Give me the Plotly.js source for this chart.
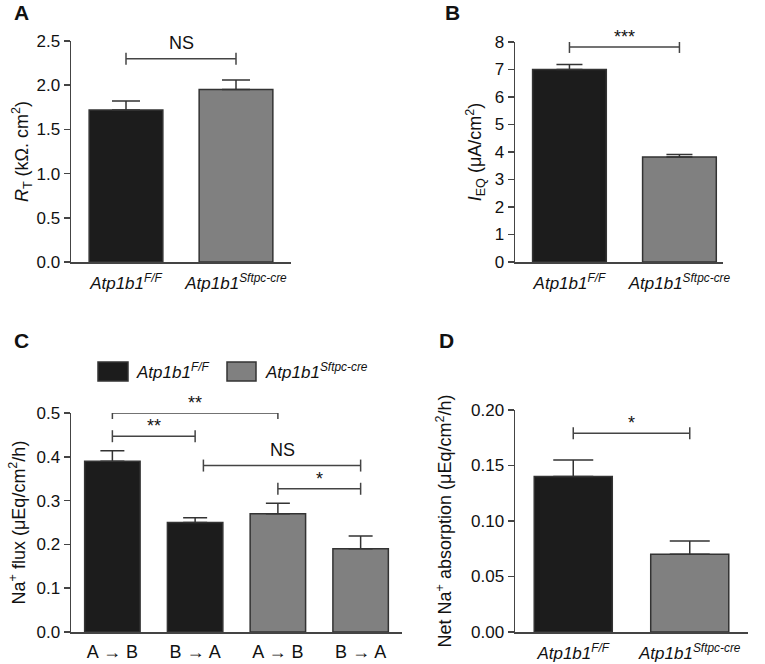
<!DOCTYPE html>
<html>
<head>
<meta charset="utf-8">
<script src="https://cdn.plot.ly/plotly-3.0.1.min.js"></script>
<style>body{margin:0}#chart{width:765px;height:664px}</style>
</head>
<body>
<div id="chart"></div>
<script>
// genotype labels
var groupLabels = ['<i>Atp1b1</i><sup><i>F/F</i></sup>', '<i>Atp1b1</i><sup><i>Sftpc-cre</i></sup>'];

// A: transepithelial resistance
var rtMean = [1.72, 1.95];
var rtErr = [0.10, 0.11];
// B: equivalent current
var ieqMean = [7.0, 3.82];
var ieqErr = [0.18, 0.09];
// C: Na+ flux
var fluxLabels = ['A \u2192 B', 'B \u2192 A', 'A \u2192 B', 'B \u2192 A'];
var fluxMean = [0.39, 0.25, 0.27, 0.19];
var fluxErr = [0.024, 0.011, 0.024, 0.029];
var fluxGroup = [0, 0, 1, 1];
// D: net absorption
var netMean = [0.14, 0.07];
var netErr = [0.015, 0.012];

// significance brackets: [from, to, y, label]
var sigA = [[0, 1, 2.3, 'NS']];
var sigB = [[0, 1, 7.82, '***']];
var sigC = [[0, 2, 0.5, '**'], [0, 1, 0.447, '**'], [1.1, 3, 0.38, 'NS'], [2, 3, 0.327, '*']];
var sigD = [[0, 1, 0.179, '*']];

var colors = ['#1c1c1c', '#808080'];
var font = 'Liberation Sans, Arial, sans-serif';
var axColor = '#444';

function barTrace(y, err, groups, xa, ya, capw) {
    var x = y.map((v, i) => i);
    return {
        type: 'bar', x: x, y: y, xaxis: xa, yaxis: ya,
        width: 0.67,
        marker: {color: groups.map(g => colors[g]), line: {color: '#333', width: 1.5}},
        error_y: {type: 'data', symmetric: false, array: err, arrayminus: err.map(e => 0),
                  color: '#333', thickness: 1.5, width: capw},
        showlegend: false, hoverinfo: 'y'
    };
}

var traces = [
    barTrace(rtMean, rtErr, [0, 1], 'x', 'y', 14),
    barTrace(ieqMean, ieqErr, [0, 1], 'x2', 'y2', 13),
    barTrace(fluxMean, fluxErr, fluxGroup, 'x3', 'y3', 12),
    barTrace(netMean, netErr, [0, 1], 'x4', 'y4', 20)
];

var shapes = [];
var annotations = [];
function addSig(list, xr, yr) {
    list.forEach(s => {
        var line = {color: axColor, width: 1.5};
        shapes.push({type: 'line', xref: xr, yref: yr, x0: s[0], x1: s[1], y0: s[2], y1: s[2], line: line});
        [s[0], s[1]].forEach(xx => {
            shapes.push({type: 'line', xref: xr, yref: yr, x0: xx, x1: xx, ysizemode: 'pixel', yanchor: s[2],
                         y0: -6, y1: 6, line: line});
        });
        var isStar = s[3].indexOf('*') >= 0;
        annotations.push({xref: xr, yref: yr, x: (s[0] + s[1]) / 2, y: s[2], text: s[3],
                          showarrow: false, yanchor: 'bottom', yshift: isStar ? -2 : 4,
                          font: {family: font, size: 18, color: '#111'}});
    });
}
addSig(sigA, 'x', 'y');
addSig(sigB, 'x2', 'y2');
addSig(sigC, 'x3', 'y3');
addSig(sigD, 'x4', 'y4');

// panel letters
[['A', 12, 12], ['B', 443, 12], ['C', 12, 340], ['D', 437, 340]].forEach(p => {
    annotations.push({xref: 'paper', yref: 'paper', x: p[1] / 765, y: 1 - p[2] / 664, xanchor: 'left',
                      yanchor: 'middle', text: '<b>' + p[0] + '</b>', showarrow: false,
                      font: {family: font, size: 21, color: '#111'}});
});

// legend for panel C
[[98, 128, 0, 134], [227, 256, 1, 263]].forEach(l => {
    shapes.push({type: 'rect', xref: 'paper', yref: 'paper', x0: l[0] / 765, x1: l[1] / 765,
                 y0: 1 - 381 / 664, y1: 1 - 362 / 664, fillcolor: colors[l[2]], line: {color: '#333', width: 1.5}});
    annotations.push({xref: 'paper', yref: 'paper', x: l[3] / 765, y: 1 - 371 / 664, xanchor: 'left',
                      yanchor: 'middle', text: groupLabels[l[2]], showarrow: false,
                      font: {family: font, size: 17, color: '#111'}});
});

function yax(anchor, domain, range, dtick, fmt, title, standoff) {
    return {
        anchor: anchor, domain: domain, range: range, dtick: dtick, tickformat: fmt,
        showgrid: false, zeroline: false, showline: true, linecolor: axColor, linewidth: 1.5,
        ticks: 'outside', ticklen: 6, tickwidth: 1.5, tickcolor: axColor,
        tickfont: {family: font, size: 17, color: '#111'},
        title: {text: title, font: {family: font, size: 18, color: '#111'}, standoff: standoff},
        fixedrange: true
    };
}
function xax(anchor, domain, range, labels, size, gap) {
    return {
        anchor: anchor, domain: domain, range: range, tickvals: labels.map((v, i) => i), ticktext: labels,
        showgrid: false, zeroline: false, showline: true, linecolor: axColor, linewidth: 1.5,
        ticks: '', ticklabelstandoff: gap, tickfont: {family: font, size: size, color: '#111'}, fixedrange: true
    };
}

var layout = {
    width: 765, height: 664,
    margin: {l: 0, r: 0, t: 0, b: 0},
    paper_bgcolor: '#fff', plot_bgcolor: '#fff',
    showlegend: false,
    xaxis: xax('y', [71 / 765, 291 / 765], [-0.5, 1.5], groupLabels, 17, 5),
    yaxis: yax('x', [1 - 262 / 664, 1 - 41 / 664], [0, 2.5], 0.5, '.1f', '<i>R</i><sub>T</sub> (k\u03a9. cm<sup>2</sup>)', 3),
    xaxis2: xax('y2', [515 / 765, 723 / 765], [-0.495, 1.396], groupLabels, 17, 5),
    yaxis2: yax('x2', [1 - 262 / 664, 1 - 42 / 664], [0, 8], 1, 'd', '<i>I</i><sub>EQ</sub> (\u03bcA/cm<sup>2</sup>)', 8),
    xaxis3: xax('y3', [71 / 765, 402 / 765], [-0.5, 3.5], fluxLabels, 18, 3),
    yaxis3: yax('x3', [1 - 632 / 664, 1 - 413 / 664], [0, 0.5], 0.1, '.1f', 'Na<sup>+</sup> flux (\u03bcEq/cm<sup>2</sup>/h)', 6),
    xaxis4: xax('y4', [515 / 765, 748 / 765], [-0.5, 1.5], groupLabels, 17, 5),
    yaxis4: yax('x4', [1 - 632 / 664, 1 - 410 / 664], [0, 0.2], 0.05, '.2f', 'Net Na<sup>+</sup> absorption (\u03bcEq/cm<sup>2</sup>/h)', 14),
    shapes: shapes,
    annotations: annotations
};

Plotly.newPlot('chart', traces, layout, {displayModeBar: false, staticPlot: true});
</script>
</body>
</html>
